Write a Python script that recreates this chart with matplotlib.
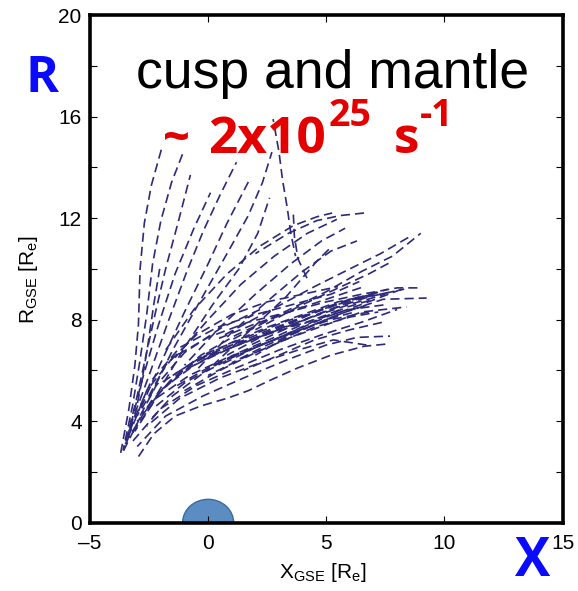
import matplotlib
matplotlib.use('Agg')
import matplotlib.pyplot as plt
from matplotlib.patches import Ellipse
from matplotlib.ticker import MultipleLocator

plt.rcParams['font.family'] = ['Liberation Sans', 'DejaVu Sans']
plt.rcParams['mathtext.default'] = 'regular'

# --- trajectory data (X_GSE, R_GSE in Earth radii) ---
# steep arcs on the left edge of the fan
arc_x = [
    [-3.70, -3.35, -3.10, -2.95, -2.88, -2.70, -2.40, -1.98],
    [-3.60, -3.20, -2.90, -2.60, -2.35, -2.00, -1.55, -1.05],
    [-3.55, -3.05, -2.65, -2.25, -1.80, -1.25, -0.75],
    [-3.50, -3.10, -2.80, -2.55, -2.30, -2.05],
]
arc_y = [
    [2.75, 4.5, 6.2, 7.8, 10.0, 11.8, 13.3, 14.7],
    [2.85, 4.6, 6.3, 8.2, 10.2, 11.9, 13.4, 14.6],
    [2.95, 4.8, 6.5, 8.2, 10.0, 11.9, 13.7],
    [3.00, 4.2, 5.6, 7.0, 8.6, 10.0],
]

# diagonal lines heading to the top of the fan
diag_x = [
    [-3.30, -2.50, -1.70, -0.90, -0.20, 0.50, 1.20],
    [-3.00, -2.00, -1.00, 0.00, 0.80, 1.80],
    [-2.60, -1.50, -0.30, 0.80, 1.70, 2.30, 2.70],
    [-2.20, -1.00, 0.20, 1.30, 2.10, 2.60],
    [-3.40, -2.80, -2.10, -1.40, -0.60, 0.10],
]
diag_y = [
    [3.8, 5.8, 7.9, 9.9, 11.5, 12.9, 14.2],
    [4.2, 6.3, 8.3, 10.2, 11.8, 13.6],
    [4.7, 6.8, 8.8, 10.6, 12.1, 13.4, 14.6],
    [5.0, 6.9, 8.6, 10.0, 11.4, 12.8],
    [3.4, 5.6, 7.8, 9.8, 11.6, 13.0],
]

# near vertical tracks coming down from the top
vert_x = [[2.75, 3.00, 3.15, 3.35, 3.50, 3.70], [3.60, 3.65, 3.80, 4.20]]
vert_y = [[15.9, 14.6, 13.5, 12.4, 11.4, 10.5], [12.3, 11.3, 10.4, 9.6]]

# tracks that flatten out around R = 10-12
flat_x = [
    [-1.8, -0.6, 0.8, 2.2, 3.6, 4.6, 5.25],
    [-1.4, 0.0, 1.4, 2.8, 4.2, 5.45],
    [-1.0, 0.5, 2.0, 3.5, 4.8, 5.8],
    [-0.5, 1.0, 2.6, 4.0, 5.2, 6.3],
    [0.2, 1.8, 3.3, 4.6, 5.2],
    [2.0, 3.4, 4.6, 5.6, 6.6],
]
flat_y = [
    [6.8, 8.4, 9.8, 10.9, 11.7, 12.05, 12.2],
    [6.5, 8.0, 9.4, 10.5, 11.4, 11.95],
    [6.2, 7.7, 9.0, 10.2, 11.1, 11.6],
    [6.0, 7.5, 8.8, 9.9, 10.7, 11.1],
    [6.2, 7.6, 8.9, 10.3, 10.85],
    [10.6, 11.4, 11.9, 12.1, 12.2],
]

# rising tracks toward the upper right
rise_x = [
    [0.5, 2.5, 4.5, 6.0, 7.3, 8.5],
    [1.0, 3.0, 5.0, 6.5, 7.8, 9.0],
    [2.0, 3.8, 5.4, 6.8, 7.8],
]
rise_y = [
    [7.3, 8.3, 9.3, 10.0, 10.6, 11.25],
    [7.2, 8.2, 9.1, 9.9, 10.5, 11.4],
    [7.6, 8.5, 9.2, 9.8, 10.3],
]

# main dense band
band_x = [
    [-3.4, -2.4, -1.2, 0.2, 1.8, 3.5, 5.2, 6.8, 8.3],
    [-3.3, -2.2, -0.8, 0.8, 2.5, 4.2, 5.8, 7.4, 9.25],
    [-3.2, -2.0, -0.5, 1.2, 3.0, 4.8, 6.5, 8.0],
    [-3.0, -1.8, -0.2, 1.5, 3.3, 5.0, 6.3, 7.7],
    [-3.5, -2.6, -1.5, 0.0, 1.7, 3.4, 5.0, 6.5, 8.0, 8.9],
    [-3.4, -2.4, -1.2, 0.4, 2.0, 3.6, 5.2, 6.4],
    [-2.8, -1.8, -0.5, 1.0, 2.5, 4.0, 5.5],
    [-3.1, -2.0, -0.6, 1.0, 2.6, 4.3, 5.8, 7.2],
    [-2.6, -1.2, 0.5, 2.2, 3.8, 5.3, 6.7],
    [-2.0, -0.5, 1.0, 2.8, 4.5, 6.0, 7.6],
    [-1.0, 0.5, 2.0, 3.5, 5.0, 6.5, 8.4],
    [0.0, 1.5, 3.0, 4.5, 6.0, 7.2],
    [-2.5, -1.5, -0.2, 1.2, 2.8, 4.4, 5.9, 7.0],
    [-3.6, -2.9, -1.9, -0.6, 1.0, 2.7, 4.4, 6.0, 7.5],
    [-1.5, 0.0, 1.6, 3.2, 4.8, 6.2, 7.8],
    [-0.5, 1.0, 2.5, 4.0, 5.5, 7.0],
    [0.5, 2.0, 3.5, 5.0, 6.5, 8.2],
    [-2.2, -1.0, 0.5, 2.0, 3.6, 5.2, 6.8],
    [1.5, 3.0, 4.5, 6.0, 7.4],
    [-3.0, -2.2, -1.0, 0.6, 2.2],
    [0.0, 1.5, 3.0, 4.5, 6.0, 7.0],
    [0.8, 2.2, 3.6, 5.0, 6.4],
    [1.0, 2.5, 4.0, 5.5, 6.8],
    [-1.5, -0.2, 1.3, 2.8, 4.2, 5.6],
    [1.8, 3.2, 4.6, 6.0, 7.6],
    [2.0, 3.5, 5.0, 6.2],
    [-2.8, -1.6, -0.3, 1.2, 2.6, 4.0],
    [0.3, 1.9, 3.4, 5.0, 6.6],
]
band_y = [
    [3.3, 4.8, 5.9, 6.6, 7.2, 7.8, 8.4, 8.9, 9.2],
    [3.4, 4.9, 5.8, 6.5, 7.1, 7.7, 8.3, 8.8, 8.85],
    [3.2, 4.5, 5.4, 6.1, 6.8, 7.4, 7.9, 8.4],
    [3.0, 4.2, 5.0, 5.7, 6.4, 7.0, 7.3, 7.35],
    [3.1, 5.2, 6.5, 7.3, 7.9, 8.3, 8.7, 9.0, 9.25, 9.25],
    [3.5, 5.6, 6.9, 7.7, 8.2, 8.6, 9.0, 9.5],
    [4.5, 6.2, 7.4, 8.2, 8.7, 9.0, 9.3],
    [3.6, 5.2, 6.3, 7.0, 7.6, 8.2, 8.7, 9.1],
    [3.8, 4.9, 5.7, 6.3, 6.8, 7.2, 7.0],
    [5.5, 6.4, 7.0, 7.5, 8.0, 8.4, 8.6],
    [5.2, 6.0, 6.7, 7.3, 7.8, 8.3, 8.5],
    [5.8, 6.5, 7.1, 7.7, 8.1, 8.3],
    [4.0, 5.0, 5.9, 6.6, 7.2, 7.9, 8.5, 8.8],
    [2.8, 4.1, 5.3, 6.2, 6.9, 7.5, 8.1, 8.6, 9.0],
    [5.8, 6.7, 7.3, 7.9, 8.4, 8.8, 9.1],
    [6.4, 7.1, 7.7, 8.2, 8.7, 9.0],
    [6.2, 6.9, 7.5, 8.1, 8.6, 9.2],
    [4.6, 5.5, 6.3, 6.9, 7.5, 8.0, 8.3],
    [6.0, 6.6, 7.2, 7.6, 7.9],
    [4.0, 5.4, 6.7, 7.7, 8.4],
    [6.5, 7.1, 7.7, 8.3, 8.8, 9.0],
    [6.6, 7.3, 7.9, 8.5, 8.9],
    [6.3, 7.0, 7.6, 8.2, 8.6],
    [5.3, 6.0, 6.7, 7.3, 7.9, 8.4],
    [7.0, 7.6, 8.2, 8.7, 9.2],
    [6.6, 7.4, 8.0, 8.3],
    [4.3, 5.6, 6.6, 7.4, 8.0, 8.5],
    [7.2, 7.8, 8.3, 8.8, 9.3],
]

# lowest track
low_x = [[-2.95, -2.3, -1.4, -0.3, 0.8, 1.7, 2.6, 3.8, 5.2, 6.6, 7.7]]
low_y = [[2.6, 3.5, 4.2, 4.6, 4.9, 5.2, 5.6, 6.1, 6.6, 6.95, 7.05]]

track_color = '#2e2a7a'

fig = plt.figure(figsize=(5.78, 5.91), dpi=100)
ax = fig.add_axes([0.1557, 0.1156, 0.8175, 0.859])

# Earth
ax.add_patch(Ellipse((0, 0), 2.16, 1.84, facecolor='#5b8cc2', edgecolor='#3b6a9f',
                     lw=1.0, zorder=1))

k = 0
for xs_all, ys_all in [(arc_x, arc_y), (diag_x, diag_y), (vert_x, vert_y),
                       (flat_x, flat_y), (rise_x, rise_y), (band_x, band_y),
                       (low_x, low_y)]:
    for xs, ys in zip(xs_all, ys_all):
        ax.plot(xs, ys, color=track_color, lw=1.2,
                linestyle=((k * 2.3) % 8.5, (5.5, 3)), zorder=2)
        k += 1

ax.set_xlim(-5, 15)
ax.set_ylim(0, 20)
ax.set_xticks([-5, 0, 5, 10, 15])
ax.set_xticklabels(['\u20135', '0', '5', '10', '15'])
ax.yaxis.set_major_locator(MultipleLocator(4))
ax.yaxis.set_minor_locator(MultipleLocator(2))
ax.tick_params(which='both', direction='in', length=5, width=0.8,
               top=True, right=True, labelsize=15, pad=6)
ax.tick_params(axis='x', pad=8)
for s in ax.spines.values():
    s.set_linewidth(2.6)

fig.text(28 / 578, 1 - 280 / 591, r'R$_{GSE}$ [R$_e$]', rotation=90,
         ha='center', va='center', fontsize=15)
fig.text(323 / 578, 1 - 572 / 591, r'X$_{GSE}$ [R$_e$]',
         ha='center', va='center', fontsize=15)

# annotations
fig.text(136 / 578, 1 - 88 / 591, 'cusp and mantle', fontsize=38.5,
         ha='left', va='baseline', color='black')
red = '#e50000'
bold = dict(family=['Open Sans', 'DejaVu Sans'], fontweight='bold', color=red)
fig.text(163 / 578, 1 - 153 / 591, '~', fontsize=34, ha='left', va='baseline', **bold)
fig.text(208 / 578, 1 - 153 / 591, '2x10', fontsize=37, ha='left', va='baseline', **bold)
fig.text(329 / 578, 1 - 126 / 591, '25', fontsize=27, ha='left', va='baseline', **bold)
fig.text(394 / 578, 1 - 153 / 591, 's', fontsize=37, ha='left', va='baseline', **bold)
fig.text(420 / 578, 1 - 126 / 591, '-1', fontsize=27, ha='left', va='baseline', **bold)

blue = dict(family=['Open Sans', 'DejaVu Sans'], fontweight='bold', color='#0a0aff')
fig.text(26 / 578, 1 - 92 / 591, 'R', fontsize=36, ha='left', va='baseline', **blue)
fig.text(515 / 578, 1.5 / 591, 'X', fontsize=38, ha='left', va='bottom', **blue)

fig.savefig('out.png', dpi=100)
